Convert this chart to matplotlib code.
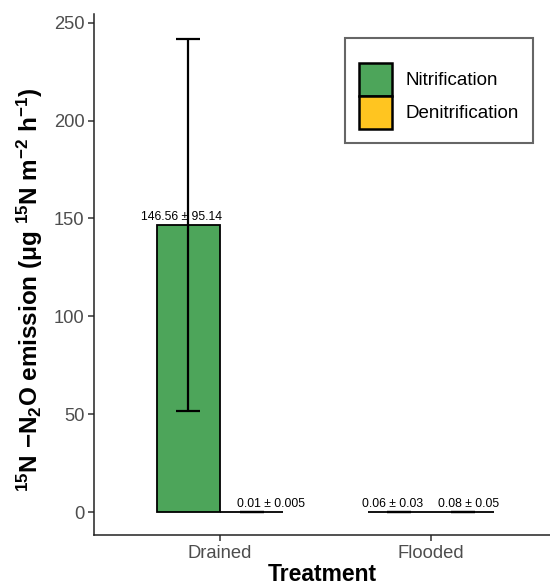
import matplotlib
matplotlib.use("Agg")
import matplotlib.pyplot as plt
from matplotlib.patches import Patch
import numpy as np

# данные с графика
treatments = ['Drained', 'Flooded']
nitrification = [146.56, 0.06]
nitrification_se = [95.14, 0.03]
denitrification = [0.01, 0.08]
denitrification_se = [0.005, 0.05]
labels_nit = ['146.56 ± 95.14', '0.06 ± 0.03']
labels_den = ['0.01 ± 0.005', '0.08 ± 0.05']

# сдвиг подписей по x (в пунктах), как на исходном рисунке
nudge_nit = [-5, -5]
nudge_den = [14, 4]

green = '#4DA55A'
yellow = '#FFC520'

plt.rcParams['font.family'] = ['Liberation Sans', 'DejaVu Sans']
plt.rcParams['mathtext.fontset'] = 'custom'
plt.rcParams['mathtext.rm'] = 'Liberation Sans:bold'
plt.rcParams['mathtext.it'] = 'Liberation Sans:bold'
plt.rcParams['mathtext.bf'] = 'Liberation Sans:bold'
plt.rcParams['mathtext.default'] = 'rm'

fig = plt.figure(figsize=(5.5, 5.87), dpi=100)
ax = fig.add_axes([94 / 550, 1 - 535 / 587, 1 - 94 / 550, 521 / 587])

x = np.arange(1, len(treatments) + 1)
w = 0.3

ax.bar(x - w / 2, nitrification, w, color=green, edgecolor='black', linewidth=1.3, zorder=2)
ax.bar(x + w / 2, denitrification, w, color=yellow, edgecolor='black', linewidth=1.3, zorder=2)

ax.errorbar(x - w / 2, nitrification, yerr=nitrification_se, fmt='none', ecolor='black',
            elinewidth=1.6, capsize=8.5, capthick=1.6, zorder=3)
ax.errorbar(x + w / 2, denitrification, yerr=denitrification_se, fmt='none', ecolor='black',
            elinewidth=1.6, capsize=8.5, capthick=1.6, zorder=3)

for xi, v, t, n in zip(x - w / 2, nitrification, labels_nit, nudge_nit):
    ax.annotate(t, (xi, v), xytext=(n, 1.5), textcoords='offset points',
                ha='center', va='bottom', fontsize=8.8, zorder=4)
for xi, v, t, n in zip(x + w / 2, denitrification, labels_den, nudge_den):
    ax.annotate(t, (xi, v), xytext=(n, 1.5), textcoords='offset points',
                ha='center', va='bottom', fontsize=8.8, zorder=4)

ax.set_xlim(0.403, 2.564)
ax.set_ylim(-11.75, 254.5)
ax.set_yticks([0, 50, 100, 150, 200, 250])
ax.set_xticks(x)
ax.set_xticklabels(treatments)

for s in ['top', 'right']:
    ax.spines[s].set_visible(False)
for s in ['left', 'bottom']:
    ax.spines[s].set_linewidth(1.1)
    ax.spines[s].set_color('#222222')
ax.tick_params(axis='both', colors='#333333', labelcolor='#4D4D4D', labelsize=13.2,
               length=4, width=1.1, pad=3)

ax.set_xlabel('Treatment', fontsize=16.5, fontweight='bold', labelpad=1)
ax.set_ylabel(r'$^{15}$N −N$_{2}$O emission (μg $^{15}$N m$^{-2}$ h$^{-1}$)',
              fontsize=17.5, fontweight='bold')
ax.yaxis.set_label_coords(-0.107, 0.47)

handles = [Patch(facecolor=green, edgecolor='black', linewidth=1.8, label='Nitrification'),
           Patch(facecolor=yellow, edgecolor='black', linewidth=1.8, label='Denitrification')]
leg = ax.legend(handles=handles, loc='upper right', bbox_to_anchor=(0.963, 0.953),
                borderaxespad=0, fontsize=13.5, handlelength=1.76, handleheight=2.33,
                labelspacing=0.0, handletextpad=0.75, borderpad=0.75, fancybox=False,
                framealpha=1, title=' ', title_fontsize=7)
leg.get_frame().set_edgecolor('#666666')
leg.get_frame().set_linewidth(1.5)

fig.savefig('out.png', dpi=100)
